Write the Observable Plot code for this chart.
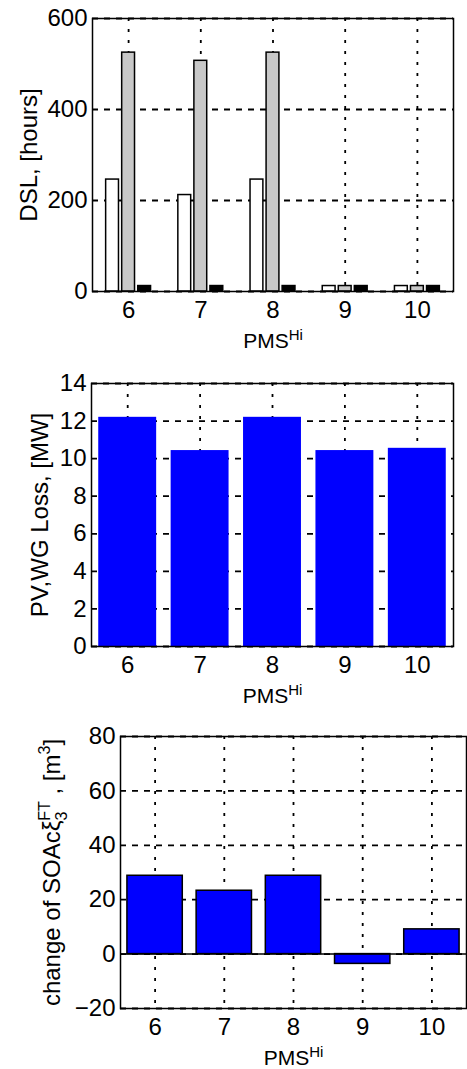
<!DOCTYPE html>
<html>
<head>
<meta charset="utf-8">
<script src="https://cdn.jsdelivr.net/npm/d3@7"></script>
<script src="https://cdn.jsdelivr.net/npm/@observablehq/plot@0.6"></script>
<style>
  html, body { margin: 0; padding: 0; background: #fff; overflow: hidden; }
  #wrap { width: 467px; height: 1069px; position: relative; overflow: hidden; background: #fff; }
  #wrap svg { display: block; }
  #wrap g[aria-label$="tick label"] text { font-size: 24px !important; }
</style>
</head>
<body>
<div id="wrap"></div>
<script>
// ---- data ----
const pms = [6, 7, 8, 9, 10];
const dslSeries = ["S1", "S2", "S3"];
const dslWhite = [246, 212, 246, 12, 12];
const dslGray = [525, 507, 525, 12, 12];
const dslBlack = [12, 12, 12, 12, 12];
const pvwgLoss = [12.2, 10.43, 12.2, 10.43, 10.55];
const soaChange = [28.8, 23.3, 28.8, -3.6, 9.1];
const dslTicks = [0, 200, 400, 600];
const lossTicks = [0, 2, 4, 6, 8, 10, 12, 14];
const soaTicks = [-20, 0, 20, 40, 60, 80];

const font = "'Liberation Sans', Arial, Helvetica, sans-serif";
const ns = "http://www.w3.org/2000/svg";
const wrap = document.getElementById("wrap");

const dslData = pms.flatMap((p, i) => [
  {pms: p, k: 0, series: dslSeries[0], value: dslWhite[i]},
  {pms: p, k: 1, series: dslSeries[1], value: dslGray[i]},
  {pms: p, k: 2, series: dslSeries[2], value: dslBlack[i]}
]);
const lossData = pms.map((p, i) => ({pms: p, value: pvwgLoss[i]}));
const soaData = pms.map((p, i) => ({pms: p, value: soaChange[i]}));

// MATLAB grouped-bar geometry
const groupW = 2 / 3, subW = groupW / 3 * 0.8, singleW = 0.8;

const gridV = {stroke: "#000", strokeOpacity: 1, strokeWidth: 1.8, strokeDasharray: "3,8"};
const gridH = {stroke: "#000", strokeOpacity: 1, strokeWidth: 1.8, strokeDasharray: "6,6"};

function style() {
  return {fontFamily: font, fontSize: "24px", color: "#000", background: "#fff", overflow: "visible"};
}

function rich(textEl, parts, size) {
  if (!textEl) return;
  while (textEl.firstChild) textEl.removeChild(textEl.firstChild);
  textEl.setAttribute("font-size", size);
  for (const p of parts) {
    const t = document.createElementNS(ns, "tspan");
    t.textContent = p.t;
    if (p.dy) t.setAttribute("dy", p.dy);
    if (p.dx) t.setAttribute("dx", p.dx);
    if (p.fs) t.setAttribute("font-size", p.fs);
    textEl.appendChild(t);
  }
}
function labelText(svg, k) {
  const g = svg.querySelector(`[aria-label="${k}-axis label"]`);
  return g ? g.querySelector("text") : null;
}
const pmsLabel = [{t: "PMS"}, {t: "Hi", dy: "-8", fs: "15"}];

function axes(xTicks, yTicks, yLabel, yLabelOffset) {
  return [
    Plot.axisX(xTicks, {tickSize: 0, tickPadding: 9, fontSize: 24, label: "PMS", labelAnchor: "center", labelOffset: 56}),
    Plot.axisY(yTicks, {tickSize: 0, tickPadding: 5, fontSize: 24, label: yLabel, labelAnchor: "center", labelOffset: yLabelOffset})
  ];
}

// ---- Panel 1: DSL ----
const p1 = Plot.plot({
  width: 467, height: 352,
  marginTop: 18, marginBottom: 61, marginLeft: 92, marginRight: 14,
  style: style(),
  x: {type: "linear", domain: [5.5, 10.5]},
  y: {domain: [0, 600]},
  color: {domain: dslSeries, range: ["#ffffff", "#c8c8c8", "#000000"]},
  marks: [
    Plot.gridX(pms, gridV),
    Plot.gridY(dslTicks, gridH),
    Plot.rectY(dslData, {
      x1: d => d.pms + (d.k - 1) * groupW / 3 - subW / 2,
      x2: d => d.pms + (d.k - 1) * groupW / 3 + subW / 2,
      y: "value", fill: "series", stroke: "#000", strokeWidth: 1.5
    }),
    Plot.frame({stroke: "#000", strokeWidth: 1.5}),
    ...axes(pms, dslTicks, "DSL, [hours]", 73)
  ]
});
rich(labelText(p1, "x"), pmsLabel, "21");
rich(labelText(p1, "y"), [{t: "DSL, [hours]"}], "24");
wrap.appendChild(p1);

// ---- Panel 2: PV,WG Loss ----
const p2 = Plot.plot({
  width: 467, height: 358,
  marginTop: 31, marginBottom: 64, marginLeft: 91, marginRight: 14,
  style: style(),
  x: {type: "linear", domain: [5.5, 10.5]},
  y: {domain: [0, 14]},
  marks: [
    Plot.gridX(pms, gridV),
    Plot.gridY(lossTicks, gridH),
    Plot.rectY(lossData, {
      x1: d => d.pms - singleW / 2, x2: d => d.pms + singleW / 2,
      y: "value", fill: "#0000ff"
    }),
    Plot.frame({stroke: "#000", strokeWidth: 1.5}),
    ...axes(pms, lossTicks, "PV,WG Loss, [MW]", 61)
  ]
});
rich(labelText(p2, "x"), pmsLabel, "21");
rich(labelText(p2, "y"), [{t: "PV,WG Loss, [MW]"}], "24");
wrap.appendChild(p2);

// ---- Panel 3: change of SOAc ----
const p3 = Plot.plot({
  width: 467, height: 359,
  marginTop: 26, marginBottom: 61, marginLeft: 120, marginRight: 1,
  style: style(),
  x: {type: "linear", domain: [5.5, 10.5]},
  y: {domain: [-20, 80]},
  marks: [
    Plot.gridX(pms, gridV),
    Plot.gridY(soaTicks, gridH),
    Plot.rectY(soaData, {
      x1: d => d.pms - singleW / 2, x2: d => d.pms + singleW / 2,
      y: "value", fill: "#0000ff", stroke: "#000", strokeWidth: 1.5
    }),
    Plot.ruleY([0], {stroke: "#000", strokeWidth: 1.5}),
    Plot.frame({stroke: "#000", strokeWidth: 1.5}),
    ...axes(pms, soaTicks, "change of SOAc", 78)
  ]
});
rich(labelText(p3, "x"), pmsLabel, "21");
rich(labelText(p3, "y"), [
  {t: "change of SOAc\u03BE"},
  {t: "3", dy: "7", fs: "16"},
  {t: "FT", dx: "-9", dy: "-17", fs: "16"},
  {t: " , [m", dy: "10"},
  {t: "3", dy: "-10", fs: "16"},
  {t: "]", dy: "10"}
], "24");
wrap.appendChild(p3);
</script>
</body>
</html>
